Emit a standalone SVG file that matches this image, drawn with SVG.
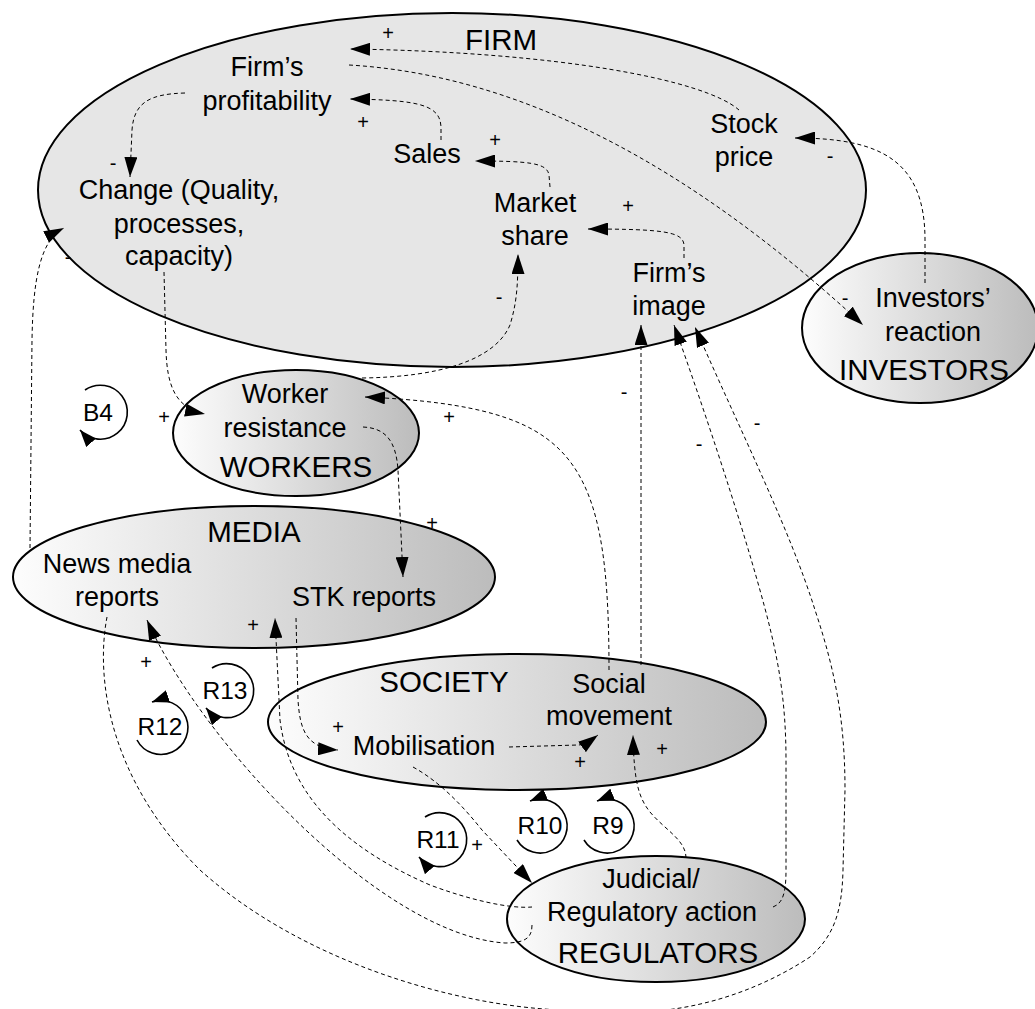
<svg xmlns="http://www.w3.org/2000/svg" width="1035" height="1009" viewBox="0 0 1035 1009">
  <style>
    .sector { stroke: #000; stroke-width: 2; }
    .node { font-family: "Liberation Sans", Arial, sans-serif; font-size: 27px; fill: #000; text-anchor: middle; }
    .label { font-family: "Liberation Sans", Arial, sans-serif; font-size: 29.5px; fill: #000; text-anchor: middle; }
    .loop-text { font-family: "Liberation Sans", Arial, sans-serif; font-size: 24.5px; fill: #000; text-anchor: middle; }
    .sign { font-family: "Liberation Sans", Arial, sans-serif; font-size: 20px; fill: #000; text-anchor: middle; }
    .link { fill: none; stroke: #000; stroke-width: 1; stroke-dasharray: 4 3; marker-end: url(#arrow); }
    .loop { fill: none; stroke: #000; stroke-width: 1.6; marker-end: url(#arrow-small); }
  </style>
  <defs>
    <linearGradient id="shade" x1="0" y1="0" x2="1" y2="0">
      <stop offset="0" stop-color="#fdfdfd"/>
      <stop offset="1" stop-color="#bcbcbc"/>
    </linearGradient>
    <marker id="arrow" markerUnits="userSpaceOnUse" viewBox="0 0 20 13" markerWidth="20" markerHeight="13" refX="20" refY="6.5" orient="auto">
      <path d="M0,0 L20,6.5 L0,13 Z" fill="#000"/>
    </marker>
    <marker id="arrow-small" markerUnits="userSpaceOnUse" viewBox="0 0 17 13" markerWidth="17" markerHeight="13" refX="17" refY="6.5" orient="auto">
      <path d="M0,0 L17,6.5 L0,13 Z" fill="#000"/>
    </marker>
  </defs>

  <!-- sector ellipses -->
  <g id="firm">
    <ellipse class="sector" cx="452" cy="190" rx="414" ry="177" fill="#e6e6e6"/>
  </g>
  <g id="investors">
    <ellipse class="sector" cx="920" cy="328" rx="118" ry="75" fill="url(#shade)"/>
  </g>
  <g id="workers">
    <ellipse class="sector" cx="296" cy="433" rx="123" ry="63" fill="url(#shade)"/>
  </g>
  <g id="media">
    <ellipse class="sector" cx="254" cy="577" rx="241" ry="71" fill="url(#shade)"/>
  </g>
  <g id="society">
    <ellipse class="sector" cx="517" cy="722" rx="249" ry="68" fill="url(#shade)"/>
  </g>
  <g id="regulators">
    <ellipse class="sector" cx="656" cy="919" rx="149" ry="63" fill="url(#shade)"/>
  </g>

  <!-- causal links -->
  <g id="connectors">
    <!-- stock price -> profitability -->
    <path class="link" d="M739,110 C705,80 560,52 350,49"/>
    <!-- profitability -> investors' reaction -->
    <path class="link" d="M349,65 C520,75 690,165 863,325"/>
    <!-- investors' reaction -> stock price -->
    <path class="link" d="M925,283 L925,240 C925,160 880,138 795,138"/>
    <!-- sales -> profitability -->
    <path class="link" d="M441,140 L441,127 C440,105 420,100 350,99"/>
    <!-- market share -> sales -->
    <path class="link" d="M550,187 L549,175 C547,163 530,161 475,161"/>
    <!-- firm's image -> market share -->
    <path class="link" d="M684,258 L684,245 C683,232 665,229 588,229"/>
    <!-- profitability -> change -->
    <path class="link" d="M185,93 C150,94 134,102 132,130 L130,177"/>
    <!-- change -> worker resistance -->
    <path class="link" d="M164,272 L166,350 C167,385 175,408 205,414"/>
    <!-- worker resistance -> market share -->
    <path class="link" d="M362,378 C440,377 495,360 510,325 C516,305 518,290 518,254"/>
    <!-- social movement -> worker resistance -->
    <path class="link" d="M609,670 C609,560 600,490 560,450 C530,420 480,402 365,397"/>
    <!-- social movement -> firm's image -->
    <path class="link" d="M641,665 L641,325"/>
    <!-- judicial/regulatory action -> firm's image -->
    <path class="link" d="M773,907 C783,903 786,893 786,870 L786,760 C786,700 778,660 768,620 C750,550 715,440 674,325"/>
    <!-- news media reports -> firm's image -->
    <path class="link" d="M107,617 C95,680 110,780 200,870 C300,960 450,1005 560,1010 L640,1012 C700,1010 760,990 810,957 C835,935 842,910 843,870 L845,790 C845,720 835,670 815,610 C790,530 740,430 695,327"/>
    <!-- news media reports -> change -->
    <path class="link" d="M30,548 L32,340 C33,280 40,240 64,228"/>
    <!-- worker resistance -> STK reports -->
    <path class="link" d="M363,427 C385,428 396,440 398,470 L403,577"/>
    <!-- STK reports -> mobilisation -->
    <path class="link" d="M296,618 L298,700 C300,730 306,748 338,750"/>
    <!-- mobilisation -> social movement -->
    <path class="link" d="M509,747 L578,745 C584,745 590,741 598,735"/>
    <!-- mobilisation -> judicial/regulatory action -->
    <path class="link" d="M413,767 C440,782 462,805 482,830 L532,883"/>
    <!-- judicial/regulatory action -> social movement -->
    <path class="link" d="M686,858 C686,840 665,830 650,812 C638,797 634,780 633,735"/>
    <!-- judicial/regulatory action -> STK reports -->
    <path class="link" d="M532,907 C510,909 470,900 430,885 C350,850 290,800 280,720 L275,618"/>
    <!-- judicial/regulatory action -> news media reports -->
    <path class="link" d="M532,925 C532,938 525,943 505,943 C380,935 200,740 147,620"/>
  </g>

  <!-- loop markers -->
  <g id="loop-b4">
    <path class="loop" d="M85,390 A27,27 0 1,1 80,430"/>
    <text class="loop-text" x="98" y="421">B4</text>
  </g>
  <g id="loop-r13">
    <path class="loop" d="M212,668 A27,27 0 1,1 206,708"/>
    <text class="loop-text" x="225" y="699">R13</text>
  </g>
  <g id="loop-r12">
    <path class="loop" d="M137,740 A27,27 0 1,0 152,702"/>
    <text class="loop-text" x="160" y="735">R12</text>
  </g>
  <g id="loop-r11">
    <path class="loop" d="M425,817 A27,27 0 1,1 419,857"/>
    <text class="loop-text" x="438" y="848">R11</text>
  </g>
  <g id="loop-r10">
    <path class="loop" d="M517,840 A27,27 0 1,0 530,801"/>
    <text class="loop-text" x="540" y="834">R10</text>
  </g>
  <g id="loop-r9">
    <path class="loop" d="M584,840 A27,27 0 1,0 597,801"/>
    <text class="loop-text" x="608" y="834">R9</text>
  </g>

  <!-- sector labels -->
  <g id="sector-labels">
    <text class="label" x="501" y="50">FIRM</text>
    <text class="label" x="924" y="380">INVESTORS</text>
    <text class="label" x="296" y="477">WORKERS</text>
    <text class="label" x="254" y="542">MEDIA</text>
    <text class="label" x="444" y="692">SOCIETY</text>
    <text class="label" x="658" y="963">REGULATORS</text>
  </g>

  <!-- variables -->
  <g id="node-profitability">
    <text class="node" x="267" y="76">Firm’s</text>
    <text class="node" x="267" y="110">profitability</text>
  </g>
  <g id="node-stock-price">
    <text class="node" x="744" y="133">Stock</text>
    <text class="node" x="744" y="166">price</text>
  </g>
  <g id="node-sales">
    <text class="node" x="427" y="163">Sales</text>
  </g>
  <g id="node-change">
    <text class="node" x="179" y="199">Change (Quality,</text>
    <text class="node" x="179" y="233">processes,</text>
    <text class="node" x="179" y="265">capacity)</text>
  </g>
  <g id="node-market-share">
    <text class="node" x="535" y="212">Market</text>
    <text class="node" x="535" y="245">share</text>
  </g>
  <g id="node-image">
    <text class="node" x="669" y="282">Firm’s</text>
    <text class="node" x="669" y="315">image</text>
  </g>
  <g id="node-investors-reaction">
    <text class="node" x="933" y="307">Investors’</text>
    <text class="node" x="933" y="341">reaction</text>
  </g>
  <g id="node-worker-resistance">
    <text class="node" x="285" y="403">Worker</text>
    <text class="node" x="285" y="437">resistance</text>
  </g>
  <g id="node-news-media">
    <text class="node" x="117" y="573">News media</text>
    <text class="node" x="117" y="606">reports</text>
  </g>
  <g id="node-stk-reports">
    <text class="node" x="364" y="606">STK reports</text>
  </g>
  <g id="node-mobilisation">
    <text class="node" x="424" y="755">Mobilisation</text>
  </g>
  <g id="node-social-movement">
    <text class="node" x="609" y="693">Social</text>
    <text class="node" x="609" y="725">movement</text>
  </g>
  <g id="node-judicial">
    <text class="node" x="651" y="888">Judicial/</text>
    <text class="node" x="652" y="921">Regulatory action</text>
  </g>

  <!-- link polarities -->
  <g id="polarities">
    <text class="sign" x="388" y="40">+</text>
    <text class="sign" x="363" y="129">+</text>
    <text class="sign" x="495" y="147">+</text>
    <text class="sign" x="628" y="213">+</text>
    <text class="sign" x="164" y="424">+</text>
    <text class="sign" x="449" y="424">+</text>
    <text class="sign" x="432" y="530">+</text>
    <text class="sign" x="253" y="632">+</text>
    <text class="sign" x="146" y="669">+</text>
    <text class="sign" x="338" y="734">+</text>
    <text class="sign" x="477" y="852">+</text>
    <text class="sign" x="580" y="769">+</text>
    <text class="sign" x="662" y="756">+</text>
    <text class="sign" x="113" y="170">-</text>
    <text class="sign" x="830" y="163">-</text>
    <text class="sign" x="845" y="305">-</text>
    <text class="sign" x="499" y="304">-</text>
    <text class="sign" x="68" y="264">-</text>
    <text class="sign" x="624" y="399">-</text>
    <text class="sign" x="699" y="451">-</text>
    <text class="sign" x="757" y="430">-</text>
  </g>
</svg>
